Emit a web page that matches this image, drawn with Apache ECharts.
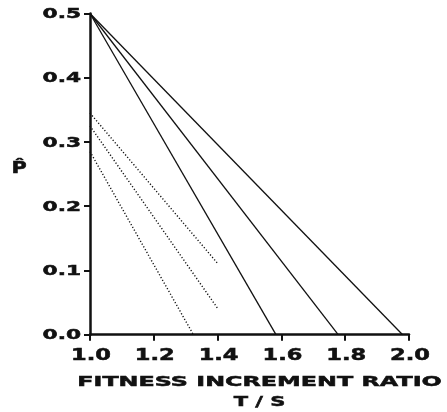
<!DOCTYPE html>
<html><head><meta charset="utf-8">
<script src="https://cdn.jsdelivr.net/npm/echarts@6/dist/echarts.min.js"></script>
<style>html,body{margin:0;padding:0;background:#fff}#c{width:447px;height:412px}</style>
</head><body><div id="c"></div>
<script>
const xTickValues = [1.0, 1.2, 1.4, 1.6, 1.8, 2.0];
const xTickLabels = ['1.0', '1.2', '1.4', '1.6', '1.8', '2.0'];
const yTickValues = [0.0, 0.1, 0.2, 0.3, 0.4, 0.5];
const yTickLabels = ['0.0', '0.1', '0.2', '0.3', '0.4', '0.5'];
const xTitle = 'FITNESS INCREMENT RATIO';
const xSubTitle = 'T / S';
const yTitle = 'P\u0302';
const solid1 = [[1.0, 0.5], [1.583, 0.0]];
const solid2 = [[1.0, 0.5], [1.778, 0.0]];
const solid3 = [[1.0, 0.5], [1.98, 0.0]];
const dotted1 = [[1.0, 0.345], [1.4, 0.111]];
const dotted2 = [[1.0, 0.325], [1.4, 0.041]];
const dotted3 = [[1.0, 0.285], [1.324, 0.0]];

const chart = echarts.init(document.getElementById('c'));
const solidStyle = {color: '#111', width: 1.3, type: 'solid'};
const dotStyle = {color: '#111', width: 1.4, type: [1.2, 2]};
function mk(data, ls) {
  return {type: 'line', data: data, symbol: 'none', lineStyle: ls, silent: true, animation: false};
}
chart.setOption({
  animation: false,
  grid: {left: 90, right: 38, top: 13.5, bottom: 77.3, containLabel: false},
  xAxis: {
    type: 'value', min: 1.0, max: 2.0, interval: 0.2,
    axisLine: {show: true, lineStyle: {color: '#111', width: 2.5}},
    axisTick: {show: true, length: 6, lineStyle: {color: '#111', width: 2}},
    axisLabel: {show: false}, splitLine: {show: false}
  },
  yAxis: {
    type: 'value', min: 0, max: 0.5, interval: 0.1,
    axisLine: {show: true, lineStyle: {color: '#111', width: 2.5}},
    axisTick: {show: true, length: 6, lineStyle: {color: '#111', width: 2}},
    axisLabel: {show: false}, splitLine: {show: false}
  },
  series: [mk(solid1, solidStyle), mk(solid2, solidStyle), mk(solid3, solidStyle),
           mk(dotted1, dotStyle), mk(dotted2, dotStyle), mk(dotted3, dotStyle)]
});

const font = {fontFamily: 'DejaVu Sans', fontWeight: 'bold', fill: '#111', stroke: '#111', lineWidth: 0.5};
const els = [];
xTickValues.forEach((v, i) => {
  const p = chart.convertToPixel({gridIndex: 0}, [v, 0]);
  els.push({type: 'text', x: p[0] + 1, y: p[1] + 21, scaleX: 1.5,
    style: Object.assign({text: xTickLabels[i], fontSize: 15, align: 'center', verticalAlign: 'middle'}, font)});
});
yTickValues.forEach((v, i) => {
  const p = chart.convertToPixel({gridIndex: 0}, [1.0, v]);
  els.push({type: 'text', x: p[0] - 9, y: p[1] + 1, scaleX: 1.55,
    style: Object.assign({text: yTickLabels[i], fontSize: 14, align: 'right', verticalAlign: 'middle'}, font)});
});
const p0 = chart.convertToPixel({gridIndex: 0}, [1.0, 0]);
const p1 = chart.convertToPixel({gridIndex: 0}, [2.0, 0.5]);
const cx = (p0[0] + p1[0]) / 2 + 10;
els.push({type: 'text', x: cx, y: p0[1] + 48, scaleX: 1.7,
  style: Object.assign({text: xTitle, fontSize: 14, align: 'center', verticalAlign: 'middle'}, font)});
els.push({type: 'text', x: cx, y: p0[1] + 68, scaleX: 1.5,
  style: Object.assign({text: xSubTitle, fontSize: 14, align: 'center', verticalAlign: 'middle'}, font)});
els.push({type: 'text', x: 19, y: (p0[1] + p1[1]) / 2 - 5, scaleX: 1.3,
  style: Object.assign({text: yTitle, fontSize: 16, align: 'center', verticalAlign: 'middle'}, font)});
chart.setOption({graphic: {elements: els}});
</script></body></html>
